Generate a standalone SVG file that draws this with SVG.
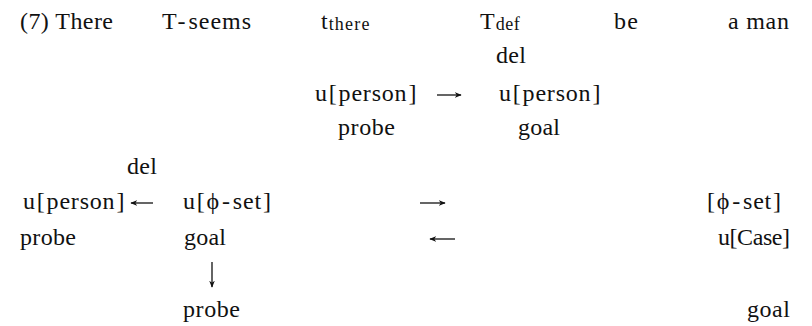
<svg xmlns="http://www.w3.org/2000/svg" width="812" height="326" viewBox="0 0 812 326">
  <style>
    text { font-family: "Liberation Serif", "Times New Roman", serif; font-size: 24px; fill: #111; }
    .sub { font-size: 18px; }
    .conn { stroke: #111; stroke-width: 1.3; fill: none; marker-end: url(#head); }
  </style>
  <defs>
    <marker id="head" viewBox="0 0 10 8" refX="9" refY="4" markerWidth="7" markerHeight="5.6" markerUnits="userSpaceOnUse" orient="auto">
      <path d="M0,0 L10,4 L0,8 L3,4 Z" fill="#111"/>
    </marker>
  </defs>
  <rect width="812" height="326" fill="#fff"/>

  <!-- top line: the sentence -->
  <g id="sentence">
    <text x="20" y="29" textLength="93" lengthAdjust="spacing">(7) There</text>
    <text x="162" y="29">T<tspan dx="3">-</tspan><tspan dx="3" letter-spacing="1">seems</tspan></text>
    <text x="321" y="29">t<tspan class="sub" dx="1" dy="1" letter-spacing="1.2">there</tspan></text>
    <text x="480" y="29">T<tspan class="sub" dx="1" dy="1" letter-spacing="0.5">def</tspan></text>
    <text x="614" y="29" textLength="24" lengthAdjust="spacing">be</text>
    <text x="728" y="29" textLength="61" lengthAdjust="spacing">a man</text>
  </g>

  <!-- upper probe/goal pair -->
  <g id="probe-seems">
    <text x="315" y="101" letter-spacing="0.8">u<tspan dx="1">[</tspan><tspan dx="1">person</tspan><tspan dx="1">]</tspan></text>
    <text x="338" y="135" textLength="57" lengthAdjust="spacing">probe</text>
  </g>
  <g id="goal-def">
    <text x="496" y="63" textLength="30" lengthAdjust="spacing">del</text>
    <text x="499" y="101" letter-spacing="0.8">u<tspan dx="1">[</tspan><tspan dx="1">person</tspan><tspan dx="1">]</tspan></text>
    <text x="518" y="135" textLength="42" lengthAdjust="spacing">goal</text>
  </g>

  <!-- lower chain -->
  <g id="probe-person">
    <text x="127" y="174" textLength="30" lengthAdjust="spacing">del</text>
    <text x="23" y="209" letter-spacing="0.8">u<tspan dx="1">[</tspan><tspan dx="1">person</tspan><tspan dx="1">]</tspan></text>
    <text x="20" y="245" textLength="56" lengthAdjust="spacing">probe</text>
  </g>
  <g id="goal-phi">
    <text x="183" y="209" letter-spacing="0.8">u<tspan dx="1">[</tspan><tspan dx="1">ϕ</tspan><tspan dx="2">-</tspan><tspan dx="2">set</tspan><tspan dx="1">]</tspan></text>
    <text x="184" y="245" textLength="42" lengthAdjust="spacing">goal</text>
    <text x="183" y="317" textLength="57" lengthAdjust="spacing">probe</text>
  </g>
  <g id="goal-man">
    <text x="707" y="209" letter-spacing="0.8">[<tspan dx="1">ϕ</tspan><tspan dx="2">-</tspan><tspan dx="2">set</tspan><tspan dx="1">]</tspan></text>
    <text x="718" y="245" textLength="72" lengthAdjust="spacing">u[Case]</text>
    <text x="747" y="317" textLength="43" lengthAdjust="spacing">goal</text>
  </g>

  <!-- arrows -->
  <g id="connectors">
    <path class="conn" d="M437,95 H461"/>
    <path class="conn" d="M153,203 H131"/>
    <path class="conn" d="M420,203 H445"/>
    <path class="conn" d="M455,239 H430"/>
    <path class="conn" d="M212,262 V287"/>
  </g>
</svg>
